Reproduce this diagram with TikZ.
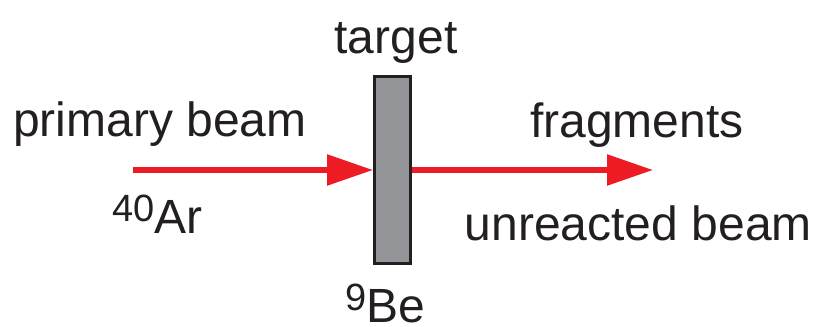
\documentclass[tikz,border=0pt]{standalone}
\usepackage{fontspec}
\setmainfont{Liberation Sans}
\usetikzlibrary{arrows.meta}
\definecolor{beamred}{HTML}{ED1C24}
\definecolor{targetgray}{HTML}{939598}
\definecolor{inkblack}{HTML}{231F20}
\newcommand{\isotope}[2]{\raisebox{12pt}{\fontsize{38}{40}\selectfont #1}#2}
\tikzset{
  lbl/.style={inner sep=0pt, text=inkblack, font=\fontsize{48}{56}\selectfont},
  beam/.style={draw=beamred, line width=5.5pt, -{Triangle[length=46pt,width=30pt]}},
  targetbox/.style={draw=inkblack, fill=targetgray, line width=3pt, inner sep=0pt,
    minimum width=36pt, minimum height=187pt}
}
\begin{document}
\begin{tikzpicture}[x=1pt,y=-1pt]
\useasboundingbox (0,0) rectangle (815,327);
\node[targetbox] (tgt) at (392.5,170) {};
\coordinate (src) at (133,170);
\coordinate (dst) at (653,170);
\draw[beam] (src) -- (tgt.west);
\draw[beam] (tgt.east) -- (dst);
\node[lbl, anchor=base] (ltarget) at (396,53) {target};
\node[lbl, anchor=base west] (lprimary) at (13,136) {primary beam};
\node[lbl, anchor=base west] (lfrag) at (530,137) {fragments};
\node[lbl, anchor=base east] (lunr) at (812,240) {unreacted beam};
\node[lbl, anchor=base west] (lar) at (112,233) {\isotope{40}{Ar}};
\node[lbl, anchor=base west] (lbe) at (345,322) {\isotope{9}{Be}};
\end{tikzpicture}
\end{document}
